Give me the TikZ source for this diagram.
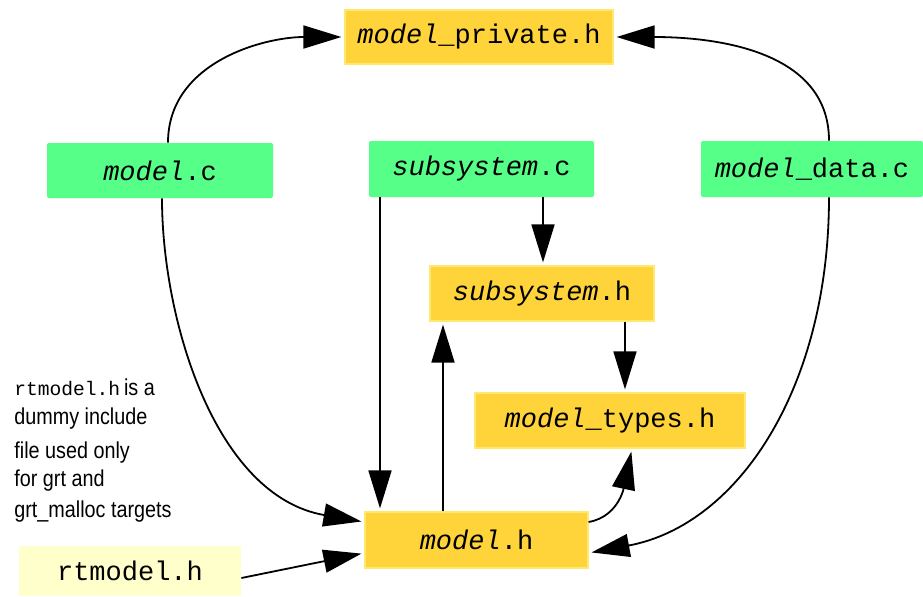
\documentclass[tikz,border=0pt]{standalone}
\usepackage{fontspec}
\setmainfont{Liberation Sans}
\newfontfamily\boxmono{Liberation Mono}
\newfontfamily\narrowsans[FakeStretch=0.86]{Liberation Sans}
\usetikzlibrary{arrows.meta}
\definecolor{hyel}{HTML}{FFD43B}
\definecolor{hyelb}{HTML}{FFE870}
\definecolor{cgreen}{HTML}{55FF88}
\definecolor{pale}{HTML}{FFFFCC}
\tikzset{
  filebox/.style={rectangle, inner sep=0pt, font=\boxmono\fontsize{13.5}{16}\selectfont},
  hfile/.style={filebox, fill=hyel, draw=hyelb, line width=0.6pt},
  cfile/.style={filebox, fill=cgreen, rounded corners=1pt},
  rtfile/.style={filebox, fill=pale},
  conn/.style={line width=0.9pt, -{Triangle[length=19pt,width=11.5pt]}, shorten >=1.5pt},
  note/.style={anchor=base west, inner sep=0pt, font=\narrowsans\fontsize{11.5}{14}\selectfont}
}
\begin{document}
\begin{tikzpicture}[x=0.5pt,y=-0.5pt]
\useasboundingbox (0,0) rectangle (923,596);
% nodes
\node[hfile, minimum width=134pt, minimum height=27pt] (mp) at (479,37) {\textit{model}\_private.h};
\node[cfile, minimum width=113pt, minimum height=27.5pt] (mc) at (160,170.5) {\textit{model}.c};
\node[cfile, minimum width=112.5pt, minimum height=28pt] (sc) at (481.5,169) {\textit{subsystem}.c};
\node[cfile, minimum width=111pt, minimum height=28pt] (md) at (812,169) {\textit{model}\_data.c};
\node[hfile, minimum width=112pt, minimum height=27.5pt] (sh) at (542,293.5) {\textit{subsystem}.h};
\node[hfile, minimum width=135pt, minimum height=27.5pt] (mt) at (610,420.5) {\textit{model}\_types.h};
\node[hfile, minimum width=111.5pt, minimum height=28pt] (mh) at (476.5,540) {\textit{model}.h};
\node[rtfile, minimum width=111pt, minimum height=25pt] (rt) at (130,571) {rtmodel.h};
% note
\node[note] (n1) at (14,395) {{\boxmono\fontsize{9.8}{12}\selectfont rtmodel.h}\,is a};
\node[note] (n2) at (14,424) {dummy include};
\node[note] (n3) at (14,458) {file used only};
\node[note] (n4) at (14,486) {for grt and};
\node[note] (n5) at (14,517) {grt\_malloc targets};
% connectors
\draw[conn] ([xshift=4pt]mc.north) to[out=90,in=180] (mp.west);
\draw[conn] ([xshift=8.5pt]md.north) to[out=90,in=0] (mp.east);
\draw[conn] ([xshift=1pt]mc.south) .. controls +(0,-60pt) and +(-75pt,13pt) .. ([yshift=9pt]mh.west);
\draw[conn] ([xshift=8.5pt]md.south) .. controls +(0,-95pt) and +(75pt,14pt) .. ([yshift=-6.5pt]mh.east);
\draw[conn] ([xshift=-50.75pt]sc.south) -- ([xshift=-48.25pt]mh.north);
\draw[conn] ([xshift=30.75pt]sc.south) -- ([xshift=0.5pt]sh.north);
\draw[conn] ([xshift=-16.75pt]mh.north) -- ([xshift=-49.5pt]sh.south);
\draw[conn] ([xshift=41.5pt]sh.south) -- ([xshift=7.5pt]mt.north);
\draw[conn] ([yshift=9pt]mh.east) to[out=10,in=-102] ([xshift=11pt]mt.south);
\draw[conn] ([yshift=-3.5pt]rt.east) -- ([yshift=-6.5pt]mh.west);
\end{tikzpicture}
\end{document}
